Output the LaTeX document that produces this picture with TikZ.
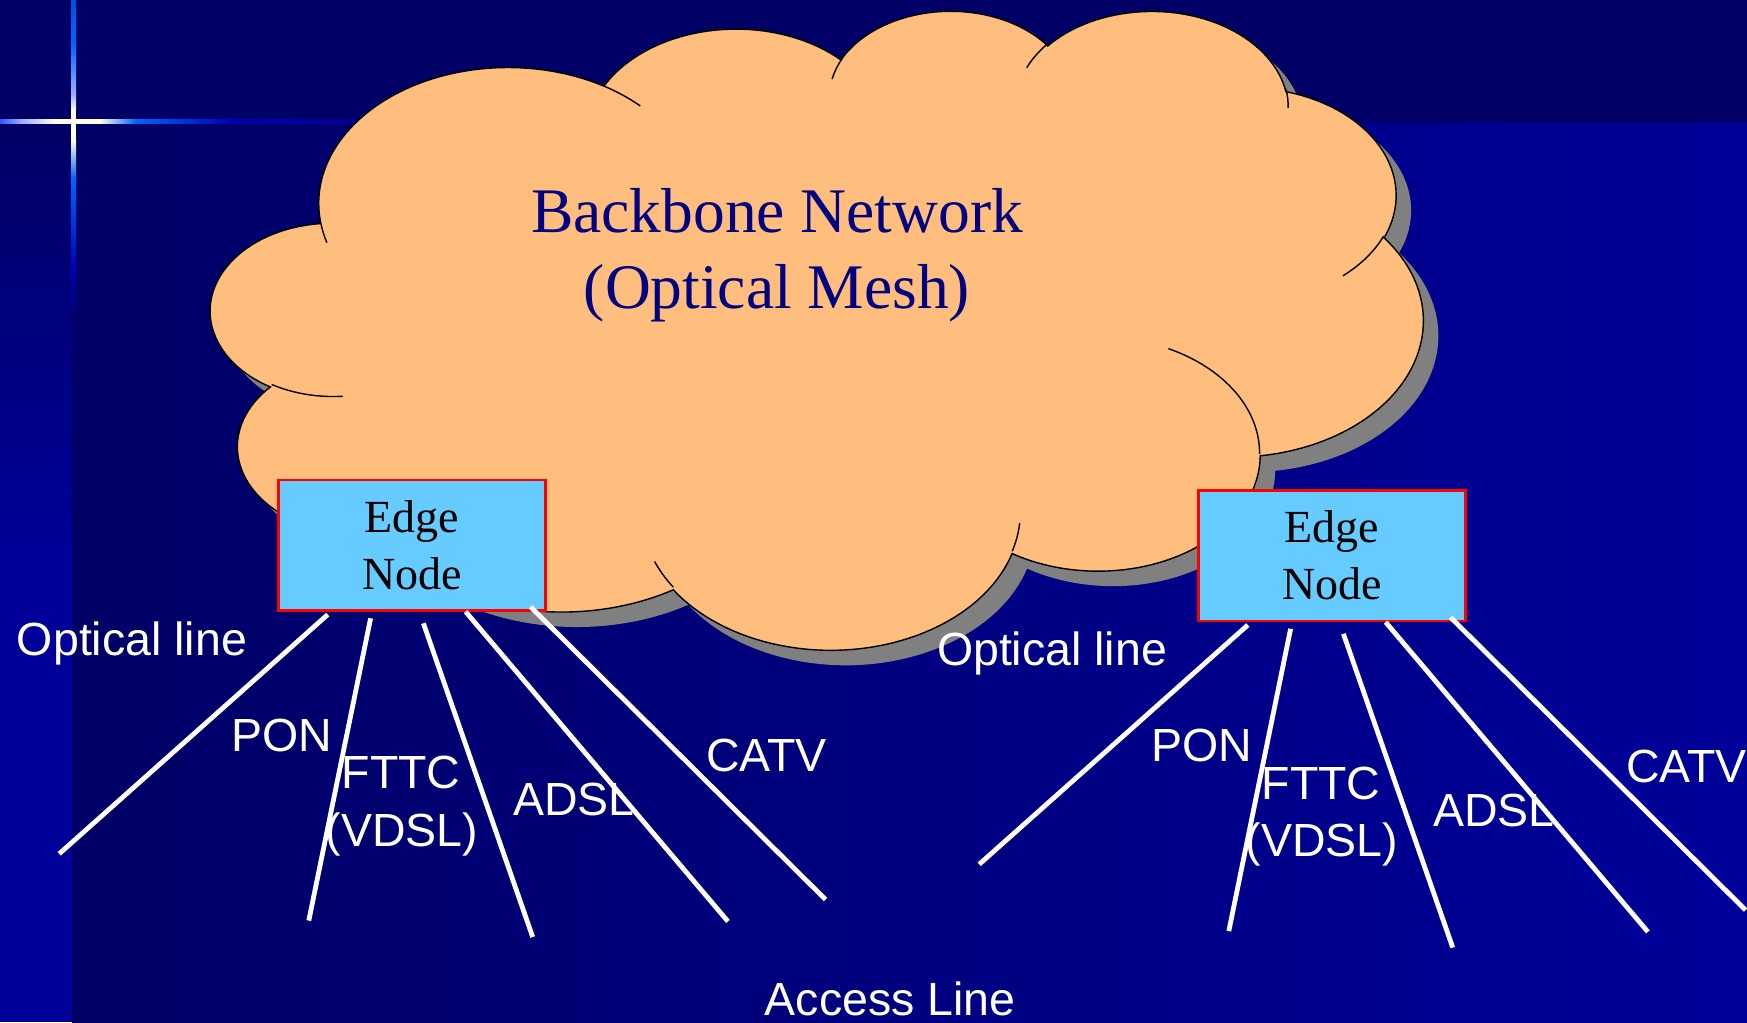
\documentclass[tikz,border=0pt]{standalone}
\usepackage{fontspec}
\setmainfont{Liberation Serif}
\newfontfamily\labelsans{Liberation Sans}

\definecolor{bandnavy}{RGB}{0,0,102}
\definecolor{mainblue}{RGB}{0,0,153}
\definecolor{cloudfill}{RGB}{255,190,125}
\definecolor{shadowgray}{RGB}{128,128,128}
\definecolor{edgefill}{RGB}{102,204,255}
\definecolor{titlenavy}{RGB}{0,0,128}
\definecolor{flareA}{RGB}{51,85,255}
\definecolor{flareB}{RGB}{160,175,255}
\definecolor{flareW}{RGB}{255,255,228}
\definecolor{flareBlue}{RGB}{0,102,255}
\definecolor{flareTop}{RGB}{0,80,224}
\definecolor{flareDeep}{RGB}{0,0,180}
\definecolor{flareEnd}{RGB}{0,0,140}

% parametric angles for DrawingML-style elliptical arcs (visual angles -> parametric)
\newcommand\cloudang[6]{%
  \pgfmathsetmacro#1{atan2((#3)*sin(#5),(#4)*cos(#5))}%
  \pgfmathsetmacro\cloudtmp{atan2((#3)*sin((#5)+(#6)),(#4)*cos((#5)+(#6)))-(#1)}%
  \pgfmathsetmacro#2{(#1)+\cloudtmp+360*(\cloudtmp<0)}%
}
\cloudang\cldSA\cldEA{67.53}{91.90}{-190.4875}{123.7805}
\cloudang\cldSB\cldEB{53.33}{72.67}{-144.1024}{89.9452}
\cloudang\cldSC\cldEC{43.65}{59.45}{-145.8079}{99.7230}
\cloudang\cldSD\cldED{48.57}{65.95}{-130.9861}{117.2417}
\cloudang\cldSE\cldEE{53.33}{72.73}{-78.7089}{109.0269}
\cloudang\cldSF\cldEF{67.75}{92.20}{-46.2673}{130.2690}
\cloudang\cldSG\cldEG{57.85}{78.67}{0.6250}{114.0333}
\cloudang\cldSH\cldEH{67.52}{92.15}{22.4516}{115.1726}
\cloudang\cldSI\cldEI{77.20}{105.43}{66.2426}{75.7110}
\cloudang\cldSJ\cldEJ{43.60}{59.18}{-274.9421}{146.7356}
\cloudang\cldSK\cldEK{43.45}{59.45}{-246.8285}{152.5189}

\cloudang\inSA\inEA{43.45}{59.45}{86.7420}{26.4295}
\cloudang\inSB\inEB{43.60}{59.18}{73.6105}{11.4475}
\cloudang\inSC\inEC{67.52}{92.15}{137.6242}{14.0811}
\cloudang\inSD\inED{67.52}{92.15}{6.4533}{15.9984}
\cloudang\inSE\inEE{57.85}{78.67}{-70.2924}{70.9174}
\cloudang\inSF\inEF{53.33}{72.73}{30.3180}{27.7515}
\cloudang\inSG\inEG{48.57}{65.95}{-13.7443}{14.8589}
\cloudang\inSH\inEH{48.57}{65.95}{-149.1815}{18.1954}
\cloudang\inSI\inEI{43.65}{59.45}{-163.4943}{17.6864}
\cloudang\inSJ\inEJ{67.53}{91.90}{-66.7070}{12.3194}
\cloudang\inSK\inEK{67.53}{91.90}{157.6544}{11.8582}

\tikzset{
  cloudoutline/.style={insert path={
    (39.00,143.70)
    arc[start angle=\cldSA, end angle=\cldEA, x radius=67.53, y radius=91.90]
    arc[start angle=\cldSB, end angle=\cldEB, x radius=53.33, y radius=72.67]
    arc[start angle=\cldSC, end angle=\cldEC, x radius=43.65, y radius=59.45]
    arc[start angle=\cldSD, end angle=\cldED, x radius=48.57, y radius=65.95]
    arc[start angle=\cldSE, end angle=\cldEE, x radius=53.33, y radius=72.73]
    arc[start angle=\cldSF, end angle=\cldEF, x radius=67.75, y radius=92.20]
    arc[start angle=\cldSG, end angle=\cldEG, x radius=57.85, y radius=78.67]
    arc[start angle=\cldSH, end angle=\cldEH, x radius=67.52, y radius=92.15]
    arc[start angle=\cldSI, end angle=\cldEI, x radius=77.20, y radius=105.43]
    arc[start angle=\cldSJ, end angle=\cldEJ, x radius=43.60, y radius=59.18]
    arc[start angle=\cldSK, end angle=\cldEK, x radius=43.45, y radius=59.45]
    -- cycle}},
  edgebox/.style={draw=red, line width=2.5pt, fill=edgefill, minimum width=267pt,
    minimum height=130.5pt, inner sep=0pt, align=center, text=black,
    font=\fontsize{46}{57}\selectfont},
  accessline/.style={draw=white, line width=4.8pt},
  lbl/.style={text=white, inner sep=0pt, anchor=base,
    font=\labelsans\fontsize{46.5}{56}\selectfont},
  titletext/.style={text=titlenavy, inner sep=0pt, align=center,
    font=\fontsize{63.5}{76}\selectfont}
}

\newcommand\accessgroup[3]{%
\begin{scope}[shift={(#2,#3)}]
  \node[edgebox] (#1edge) at (411.9,545) {Edge\\Node};
  \coordinate (#1s1) at (327.8,614.5);  \coordinate (#1e1) at (59.2,853.8);
  \coordinate (#1s2) at (370.6,618.3);  \coordinate (#1e2) at (308.8,920.6);
  \coordinate (#1s3) at (423.4,623.3);  \coordinate (#1e3) at (532.7,937.0);
  \coordinate (#1s4) at (465.6,611.6);  \coordinate (#1e4) at (727.9,921.4);
  \coordinate (#1s5) at (530.5,606.8);  \coordinate (#1e5) at (825.5,899.5);
  \draw[accessline] (#1s1) -- (#1e1);
  \draw[accessline] (#1s2) -- (#1e2);
  \draw[accessline] (#1s3) -- (#1e3);
  \draw[accessline] (#1s4) -- (#1e4);
  \draw[accessline] (#1s5) -- (#1e5);
  \node[lbl] (#1optical) at (132,655) {Optical line};
  \node[lbl] (#1pon) at (281.5,751) {PON};
  \node[lbl] (#1fttc) at (401,788.6) {FTTC};
  \node[lbl] (#1vdsl) at (402,846) {(VDSL)};
  \node[lbl] (#1adsl) at (574,815.6) {ADSL};
  \node[lbl] (#1catv) at (766.4,771.8) {CATV};
\end{scope}}

\begin{document}
\begin{tikzpicture}[x=1pt,y=-1pt]
\useasboundingbox (0,0) rectangle (1747,1022);
\clip (0,0) rectangle (1747,1022);
% background
\fill[bandnavy] (0,0) rectangle (1747,1022);
\shade[left color=bandnavy, right color=mainblue] (72,124) rectangle (1747,1022);
\shade[top color=bandnavy, bottom color=mainblue] (0,124) rectangle (72,560);
\fill[mainblue] (0,560) rectangle (72,1022);
% flare (horizontal)
\shade[left color=flareA, right color=flareB] (0,119.5) rectangle (22,124);
\shade[left color=flareB, right color=flareW] (22,119.5) rectangle (55,124);
\fill[flareW] (55,119.5) rectangle (100,124);
\shade[left color=flareW, right color=flareBlue] (100,119.5) rectangle (135,124);
\shade[left color=flareBlue, right color=flareDeep] (135,119.5) rectangle (230,124);
\shade[left color=flareDeep, right color=flareEnd] (230,119.5) rectangle (365,124);
% flare (vertical)
\shade[top color=flareTop, bottom color=flareBlue] (71,0) rectangle (76,45);
\shade[top color=flareBlue, bottom color=flareB] (71,45) rectangle (76,95);
\shade[top color=flareB, bottom color=flareW] (71,95) rectangle (76,110);
\fill[flareW] (71,110) rectangle (76,140);
\shade[top color=flareW, bottom color=flareBlue] (71,140) rectangle (76,178);
\shade[top color=flareBlue, bottom color=flareDeep] (71,178) rectangle (76,270);
\shade[top color=flareDeep, bottom color=bandnavy] (71,270) rectangle (76,320);

% cloud
\begin{scope}[shift={(211.1,9.24)}, x=2.8049pt, y=-1.4785pt]
  \path[fill=shadowgray, xshift=15pt, yshift=-15pt, cloudoutline];
  \path[draw=black, line width=1.4pt, fill=cloudfill, cloudoutline];
  \draw[black, line width=1.4pt]
    (46.93,261.77) arc[start angle=\inSA, end angle=\inEA, x radius=43.45, y radius=59.45]
    (69.28,348.99) arc[start angle=\inSB, end angle=\inEB, x radius=43.60, y radius=59.18]
    (164.78,390.90) arc[start angle=\inSC, end angle=\inEC, x radius=67.52, y radius=92.15]
    (288.27,347.51) arc[start angle=\inSD, end angle=\inED, x radius=67.52, y radius=92.15]
    (341.29,229.54) arc[start angle=\inSE, end angle=\inEE, x radius=57.85, y radius=78.67]
    (417.98,153.54) arc[start angle=\inSF, end angle=\inEF, x radius=53.33, y radius=72.73]
    (383.24,54.26) arc[start angle=\inSG, end angle=\inEG, x radius=48.57, y radius=65.95]
    (290.78,39.52) arc[start angle=\inSH, end angle=\inEH, x radius=48.57, y radius=65.95]
    (221.41,47.20) arc[start angle=\inSI, end angle=\inEI, x radius=43.65, y radius=59.45]
    (140.00,51.92) arc[start angle=\inSJ, end angle=\inEJ, x radius=67.53, y radius=91.90]
    (41.27,157.89) arc[start angle=\inSK, end angle=\inEK, x radius=67.53, y radius=91.90];
\end{scope}

\node[titletext] (title) at (777,255.4) {Backbone Network\\(Optical Mesh)};

\accessgroup{L}{0}{0}
\accessgroup{R}{920}{10.5}

\node[lbl] (access) at (890.3,1015) {Access Line};
\end{tikzpicture}
\end{document}
